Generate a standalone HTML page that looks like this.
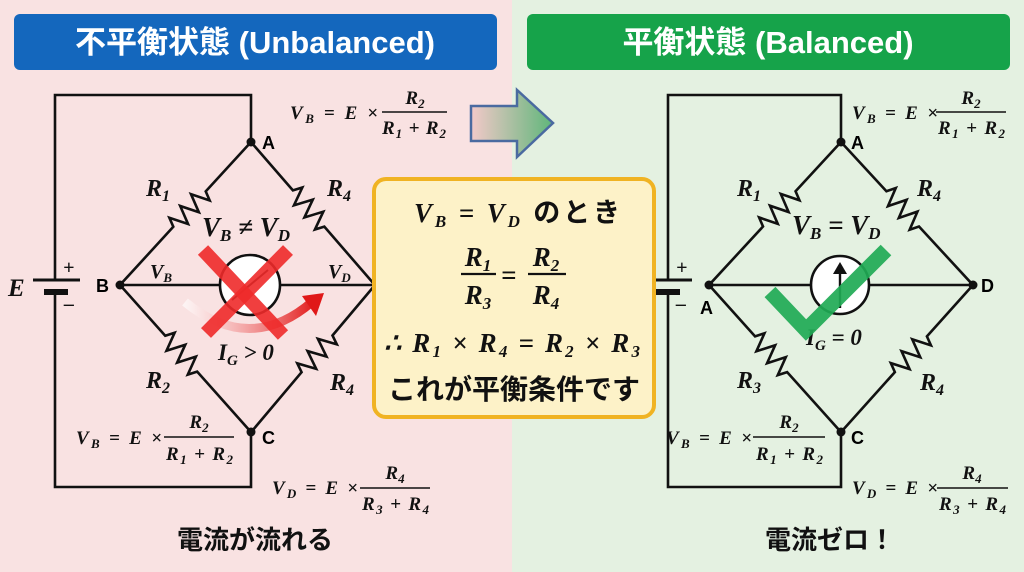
<!DOCTYPE html>
<html><head><meta charset="utf-8"><style>
html,body{margin:0;padding:0;width:1024px;height:572px;overflow:hidden}
svg{display:block}
.m{font-family:"Liberation Serif",serif;font-style:italic;font-weight:bold;fill:#111}
.j{font-family:"Liberation Sans","Noto Sans CJK JP",sans-serif;font-weight:bold}
.w{fill:none;stroke:#111;stroke-width:2.6;stroke-linejoin:miter}
</style></head><body>
<svg width="1024" height="572" viewBox="0 0 1024 572" xmlns="http://www.w3.org/2000/svg">
<defs>
<linearGradient id="ag" x1="0" x2="1"><stop offset="0" stop-color="#f3c9c9"/><stop offset="1" stop-color="#5fb67a"/></linearGradient>
<linearGradient id="cg" x1="0" x2="1"><stop offset="0" stop-color="#fff" stop-opacity=".6"/><stop offset="1" stop-color="#e32020"/></linearGradient>
</defs>
<rect x="0" y="0" width="512" height="572" fill="#f9e2e2"/>
<rect x="512" y="0" width="512" height="572" fill="#e4f1e1"/>
<rect x="14" y="14" width="483" height="56" rx="6" fill="#1467bd"/>
<rect x="527" y="14" width="483" height="56" rx="6" fill="#16a34a"/>
<text x="255" y="53" text-anchor="middle" class="j" font-size="31" fill="#fff">不平衡状態 (Unbalanced)</text>
<text x="768" y="53" text-anchor="middle" class="j" font-size="31" fill="#fff">平衡状態 (Balanced)</text>

<path d="M471,106 H517 V90 L553,123 L517,157 V141 H471 Z" fill="url(#ag)" stroke="#4a6aa0" stroke-width="2.5"/>

<!-- LEFT CIRCUIT -->
<path class="w" d="M251,142 V95 H55 V280 M55,292 V487 H251 V432"/>
<line x1="33" y1="280" x2="80" y2="280" stroke="#111" stroke-width="3"/>
<line x1="44" y1="292" x2="68" y2="292" stroke="#111" stroke-width="6"/>
<text x="63" y="274" class="m" font-size="20" font-style="normal">+</text>
<text x="64" y="310" class="m" font-size="20" font-style="normal">–</text>
<text x="8" y="296" class="m" font-size="25">E</text>
<g class="w">
<path transform="translate(251,142) rotate(132.5)" d="M0,0 H67 l4,-9 l8,18 l8,-18 l8,18 l8,-18 l8,18 l4,-9 H194"/>
<path transform="translate(251,142) rotate(49.1)" d="M0,0 H64 l4,-9 l8,18 l8,-18 l8,18 l8,-18 l8,18 l4,-9 H189"/>
<path transform="translate(120,285) rotate(48.3)" d="M0,0 H68 l4,-9 l8,18 l8,-18 l8,18 l8,-18 l8,18 l4,-9 H197"/>
<path transform="translate(375,285) rotate(130.1)" d="M0,0 H66 l4,-9 l8,18 l8,-18 l8,18 l8,-18 l8,18 l4,-9 H192"/>
<line x1="120" y1="285" x2="375" y2="285"/>
</g>
<circle cx="250" cy="285" r="30" fill="#fff" stroke="#111" stroke-width="2.6"/>
<line x1="232" y1="300" x2="268" y2="270" stroke="#111" stroke-width="2"/>
<circle cx="251" cy="142" r="4.5" fill="#111"/><circle cx="120" cy="285" r="4.5" fill="#111"/><circle cx="251" cy="432" r="4.5" fill="#111"/>
<text x="262" y="149" class="j" font-size="18">A</text>
<text x="96" y="292" class="j" font-size="18">B</text>
<text x="262" y="444" class="j" font-size="18">C</text>
<text x="146" y="196" class="m" font-size="24">R<tspan font-size="16" dy="5">1</tspan></text>
<text x="327" y="196" class="m" font-size="24">R<tspan font-size="16" dy="5">4</tspan></text>
<text x="146" y="388" class="m" font-size="24">R<tspan font-size="16" dy="5">2</tspan></text>
<text x="330" y="390" class="m" font-size="24">R<tspan font-size="16" dy="5">4</tspan></text>
<text x="150" y="278" class="m" font-size="20">V<tspan font-size="13" dy="4">B</tspan></text>
<text x="328" y="278" class="m" font-size="20">V<tspan font-size="13" dy="4">D</tspan></text>
<text x="202" y="236" class="m" font-size="27">V<tspan font-size="17" dy="5">B</tspan><tspan dy="-5"> ≠ V</tspan><tspan font-size="17" dy="5">D</tspan></text>
<path d="M185,302 Q250,355 312,302" fill="none" stroke="url(#cg)" stroke-width="9"/>
<path d="M302,296 L324,293 L316,316 Z" fill="#e01818"/>
<g stroke="#ee2a2a" stroke-opacity=".9" stroke-width="14">
<line x1="203" y1="250" x2="283" y2="335"/><line x1="288" y1="250" x2="206" y2="333"/>
</g>
<text x="218" y="360" class="m" font-size="23">I<tspan font-size="15" dy="5">G</tspan><tspan dy="-5"> &gt; 0</tspan></text>
<g class="m" font-size="19">
<text x="290" y="119" textLength="88" lengthAdjust="spacing">V<tspan font-size="13" dy="4">B</tspan><tspan dy="-4"> = E ×</tspan></text>
<text x="415" y="104" text-anchor="middle">R<tspan font-size="13" dy="4">2</tspan></text>
<line x1="382" y1="112" x2="447" y2="112" stroke="#111" stroke-width="1.5"/>
<text x="382" y="134" textLength="64" lengthAdjust="spacing">R<tspan font-size="13" dy="4">1</tspan><tspan dy="-4"> + R</tspan><tspan font-size="13" dy="4">2</tspan></text>
<text x="76" y="444" textLength="86" lengthAdjust="spacing">V<tspan font-size="13" dy="4">B</tspan><tspan dy="-4"> = E ×</tspan></text>
<text x="199" y="428" text-anchor="middle">R<tspan font-size="13" dy="4">2</tspan></text>
<line x1="164" y1="437" x2="234" y2="437" stroke="#111" stroke-width="1.5"/>
<text x="166" y="460" textLength="67" lengthAdjust="spacing">R<tspan font-size="13" dy="4">1</tspan><tspan dy="-4"> + R</tspan><tspan font-size="13" dy="4">2</tspan></text>
<text x="272" y="494" textLength="86" lengthAdjust="spacing">V<tspan font-size="13" dy="4">D</tspan><tspan dy="-4"> = E ×</tspan></text>
<text x="395" y="479" text-anchor="middle">R<tspan font-size="13" dy="4">4</tspan></text>
<line x1="360" y1="488" x2="430" y2="488" stroke="#111" stroke-width="1.5"/>
<text x="362" y="510" textLength="67" lengthAdjust="spacing">R<tspan font-size="13" dy="4">3</tspan><tspan dy="-4"> + R</tspan><tspan font-size="13" dy="4">4</tspan></text>
</g>
<text x="255" y="549" text-anchor="middle" class="j" font-size="26" fill="#111">電流が流れる</text>

<!-- RIGHT CIRCUIT -->
<path class="w" d="M841,142 V95 H668 V280 M668,292 V487 H841 V432"/>
<line x1="646" y1="280" x2="692" y2="280" stroke="#111" stroke-width="3"/>
<line x1="656" y1="292" x2="680" y2="292" stroke="#111" stroke-width="6"/>
<text x="676" y="274" class="m" font-size="20" font-style="normal">+</text>
<text x="676" y="310" class="m" font-size="20" font-style="normal">–</text>
<g class="w">
<path transform="translate(841,142) rotate(132.7)" d="M0,0 H67 l4,-9 l8,18 l8,-18 l8,18 l8,-18 l8,18 l4,-9 H195"/>
<path transform="translate(841,142) rotate(47.3)" d="M0,0 H67 l4,-9 l8,18 l8,-18 l8,18 l8,-18 l8,18 l4,-9 H195"/>
<path transform="translate(709,285) rotate(48.1)" d="M0,0 H69 l4,-9 l8,18 l8,-18 l8,18 l8,-18 l8,18 l4,-9 H198"/>
<path transform="translate(973,285) rotate(131.9)" d="M0,0 H69 l4,-9 l8,18 l8,-18 l8,18 l8,-18 l8,18 l4,-9 H198"/>
<line x1="709" y1="285" x2="973" y2="285"/>
</g>
<circle cx="840" cy="285" r="29" fill="#fff" stroke="#111" stroke-width="2.6"/>
<line x1="840" y1="308" x2="840" y2="272" stroke="#111" stroke-width="2.4"/>
<path d="M833,274 L840,262 L847,274 Z" fill="#111"/>
<circle cx="841" cy="142" r="4.5" fill="#111"/><circle cx="709" cy="285" r="4.5" fill="#111"/><circle cx="973" cy="285" r="4.5" fill="#111"/><circle cx="841" cy="432" r="4.5" fill="#111"/>
<text x="851" y="149" class="j" font-size="18">A</text>
<text x="700" y="314" class="j" font-size="18">A</text>
<text x="981" y="292" class="j" font-size="18">D</text>
<text x="851" y="444" class="j" font-size="18">C</text>
<text x="737" y="196" class="m" font-size="24">R<tspan font-size="16" dy="5">1</tspan></text>
<text x="917" y="196" class="m" font-size="24">R<tspan font-size="16" dy="5">4</tspan></text>
<text x="737" y="388" class="m" font-size="24">R<tspan font-size="16" dy="5">3</tspan></text>
<text x="920" y="390" class="m" font-size="24">R<tspan font-size="16" dy="5">4</tspan></text>
<text x="792" y="234" class="m" font-size="27">V<tspan font-size="17" dy="5">B</tspan><tspan dy="-5"> = V</tspan><tspan font-size="17" dy="5">D</tspan></text>
<text x="806" y="345" class="m" font-size="23">I<tspan font-size="15" dy="5">G</tspan><tspan dy="-5"> = 0</tspan></text>
<path d="M770,292 L806,330 L886,250" fill="none" stroke="#1faa55" stroke-opacity=".92" stroke-width="15"/>
<g class="m" font-size="19">
<text x="852" y="119" textLength="86" lengthAdjust="spacing">V<tspan font-size="13" dy="4">B</tspan><tspan dy="-4"> = E ×</tspan></text>
<text x="971" y="104" text-anchor="middle">R<tspan font-size="13" dy="4">2</tspan></text>
<line x1="936" y1="112" x2="1006" y2="112" stroke="#111" stroke-width="1.5"/>
<text x="938" y="134" textLength="67" lengthAdjust="spacing">R<tspan font-size="13" dy="4">1</tspan><tspan dy="-4"> + R</tspan><tspan font-size="13" dy="4">2</tspan></text>
<text x="666" y="444" textLength="86" lengthAdjust="spacing">V<tspan font-size="13" dy="4">B</tspan><tspan dy="-4"> = E ×</tspan></text>
<text x="789" y="428" text-anchor="middle">R<tspan font-size="13" dy="4">2</tspan></text>
<line x1="753" y1="437" x2="825" y2="437" stroke="#111" stroke-width="1.5"/>
<text x="756" y="460" textLength="67" lengthAdjust="spacing">R<tspan font-size="13" dy="4">1</tspan><tspan dy="-4"> + R</tspan><tspan font-size="13" dy="4">2</tspan></text>
<text x="852" y="494" textLength="86" lengthAdjust="spacing">V<tspan font-size="13" dy="4">D</tspan><tspan dy="-4"> = E ×</tspan></text>
<text x="972" y="479" text-anchor="middle">R<tspan font-size="13" dy="4">4</tspan></text>
<line x1="937" y1="488" x2="1008" y2="488" stroke="#111" stroke-width="1.5"/>
<text x="939" y="510" textLength="67" lengthAdjust="spacing">R<tspan font-size="13" dy="4">3</tspan><tspan dy="-4"> + R</tspan><tspan font-size="13" dy="4">4</tspan></text>
</g>
<text x="830" y="549" text-anchor="middle" class="j" font-size="26" fill="#111">電流ゼロ！</text>

<!-- center box -->
<rect x="374" y="179" width="280" height="238" rx="12" fill="#fdf2c8" stroke="#f0b323" stroke-width="4"/>
<text x="414" y="222" class="m" font-size="27" textLength="206" lengthAdjust="spacing">V<tspan font-size="17" dy="5">B</tspan><tspan dy="-5"> = V</tspan><tspan font-size="17" dy="5">D</tspan><tspan dy="-5" class="j" font-style="normal"> のとき</tspan></text>
<g class="m" font-size="27">
<text x="478" y="266" text-anchor="middle">R<tspan font-size="17" dy="5">1</tspan></text>
<line x1="461" y1="274" x2="496" y2="274" stroke="#111" stroke-width="2.2"/>
<text x="478" y="304" text-anchor="middle">R<tspan font-size="17" dy="5">3</tspan></text>
<text x="501" y="284">=</text>
<text x="546" y="266" text-anchor="middle">R<tspan font-size="17" dy="5">2</tspan></text>
<line x1="528" y1="274" x2="566" y2="274" stroke="#111" stroke-width="2.2"/>
<text x="546" y="304" text-anchor="middle">R<tspan font-size="17" dy="5">4</tspan></text>
<text x="384" y="352" textLength="256" lengthAdjust="spacing">∴ R<tspan font-size="17" dy="5">1</tspan><tspan dy="-5"> × R</tspan><tspan font-size="17" dy="5">4</tspan><tspan dy="-5"> = R</tspan><tspan font-size="17" dy="5">2</tspan><tspan dy="-5"> × R</tspan><tspan font-size="17" dy="5">3</tspan></text>
</g>
<text x="514" y="399" text-anchor="middle" class="j" font-size="28" fill="#111">これが平衡条件です</text>
</svg>
</body></html>
